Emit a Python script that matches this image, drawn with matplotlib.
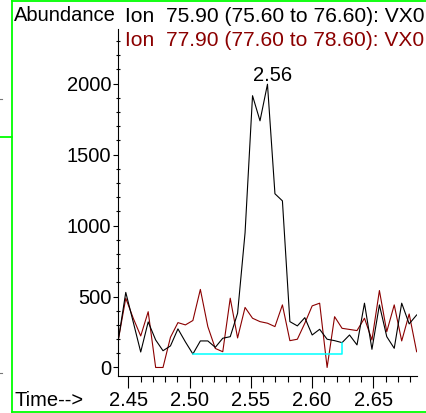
import matplotlib.pyplot as plt
from matplotlib.lines import Line2D
from matplotlib.ticker import MultipleLocator

plt.rcParams['font.family'] = ['Liberation Sans', 'DejaVu Sans']

# scan times (min)
times = [2.4418, 2.4479, 2.4540, 2.4601, 2.4662, 2.4723, 2.4783, 2.4844, 2.4905, 2.4966,
         2.5027, 2.5088, 2.5149, 2.5210, 2.5271, 2.5332, 2.5392, 2.5453, 2.5514, 2.5575,
         2.5636, 2.5697, 2.5758, 2.5819, 2.5880, 2.5941, 2.6001, 2.6062, 2.6123, 2.6184,
         2.6245, 2.6306, 2.6367, 2.6428, 2.6489, 2.6550, 2.6610, 2.6671, 2.6732, 2.6793,
         2.6854]

# ion 75.90
ion_75 = [194, 529, 320, 109, 321, 194, 118, 152, 272, 180,
          95, 187, 187, 142, 206, 217, 382, 949, 1915, 1738,
          1996, 1224, 1174, 323, 293, 351, 229, 269, 199, 189,
          175, 229, 159, 453, 128, 441, 217, 135, 453, 307,
          370]

# ion 77.90
ion_77 = [194, 488, 347, 222, 393, 0, 0, 213, 316, 300,
          331, 550, 288, 134, 111, 488, 208, 423, 347, 323,
          312, 288, 441, 189, 199, 312, 434, 453, 0, 358,
          276, 268, 260, 347, 194, 542, 252, 441, 187, 377,
          111]

legend_75 = 'Ion  75.90 (75.60 to 76.60): VX0'
legend_77 = 'Ion  77.90 (77.60 to 78.60): VX0'

# integration start / end scans
base_start = 10
base_end = 30

fig = plt.figure(figsize=(4.26, 4.13), dpi=100)
ax = fig.add_axes([0.2777, 0.0903, 0.7012, 0.8395])

ax.plot(times, ion_77, color='#8b0000', lw=0.8)
ax.plot(times, ion_75, color='black', lw=0.8)

# baseline under the peak
bx = [times[base_start], times[base_end], times[base_end]]
by = [ion_75[base_start], ion_75[base_start], ion_75[base_end]]
ax.plot(bx, by, color='#00ffff', lw=1.1)

# peak apex label
ip = ion_75.index(max(ion_75))
ax.annotate(f'{times[ip]:.2f}', (times[ip], ion_75[ip]), xytext=(5.5, 3.5),
            textcoords='offset pixels', ha='center', va='baseline', fontsize=14.5)

ax.set_xlim(times[0], times[-1] + 0.0003)
ax.set_ylim(-58, 2385)

ax.spines['top'].set_visible(False)
ax.spines['right'].set_visible(False)
ax.spines['left'].set_linewidth(0.8)
ax.spines['bottom'].set_linewidth(0.8)

ax.xaxis.set_major_locator(MultipleLocator(0.05))
ax.xaxis.set_minor_locator(MultipleLocator(0.01))
ax.yaxis.set_major_locator(MultipleLocator(500))
ax.yaxis.set_minor_locator(MultipleLocator(100))
ax.xaxis.set_major_formatter(plt.FormatStrFormatter('%.2f'))

ax.tick_params(axis='x', which='major', direction='out', length=8.3, width=0.8,
               pad=2.5, labelsize=14.5)
ax.tick_params(axis='x', which='minor', direction='out', length=4.3, width=0.8)
ax.tick_params(axis='y', which='major', direction='out', length=3.6, width=0.8,
               pad=1.5, labelsize=14.5)
ax.tick_params(axis='y', which='minor', direction='inout', length=3.0, width=0.8)

fig.text(14 / 426, 1 - 21 / 413, 'Abundance', fontsize=14.5, va='baseline')
fig.text(14 / 426, 1 - 406.5 / 413, 'Time-->', fontsize=14.5, va='baseline')
fig.text(125 / 426, 1 - 22.5 / 413, legend_75, fontsize=15.1, va='baseline',
         color='black')
fig.text(125 / 426, 1 - 46.5 / 413, legend_77, fontsize=15.1, va='baseline',
         color='#8b0000')

# window frame
W, H = 426, 413
green = '#00ff00'
frame = [([12, 12], [0, 412]), ([12, 426], [1, 1]), ([12, 426], [411.5, 411.5]),
         ([0, 12], [136.5, 136.5])]
for xs, ys in frame:
    fig.add_artist(Line2D([x / W for x in xs], [1 - y / H for y in ys],
                          color=green, lw=1.3))
for y in (99, 373):
    fig.add_artist(Line2D([0, 2 / W], [1 - y / H, 1 - y / H], color='#777777', lw=0.8))

fig.savefig('out.png', dpi=100)
